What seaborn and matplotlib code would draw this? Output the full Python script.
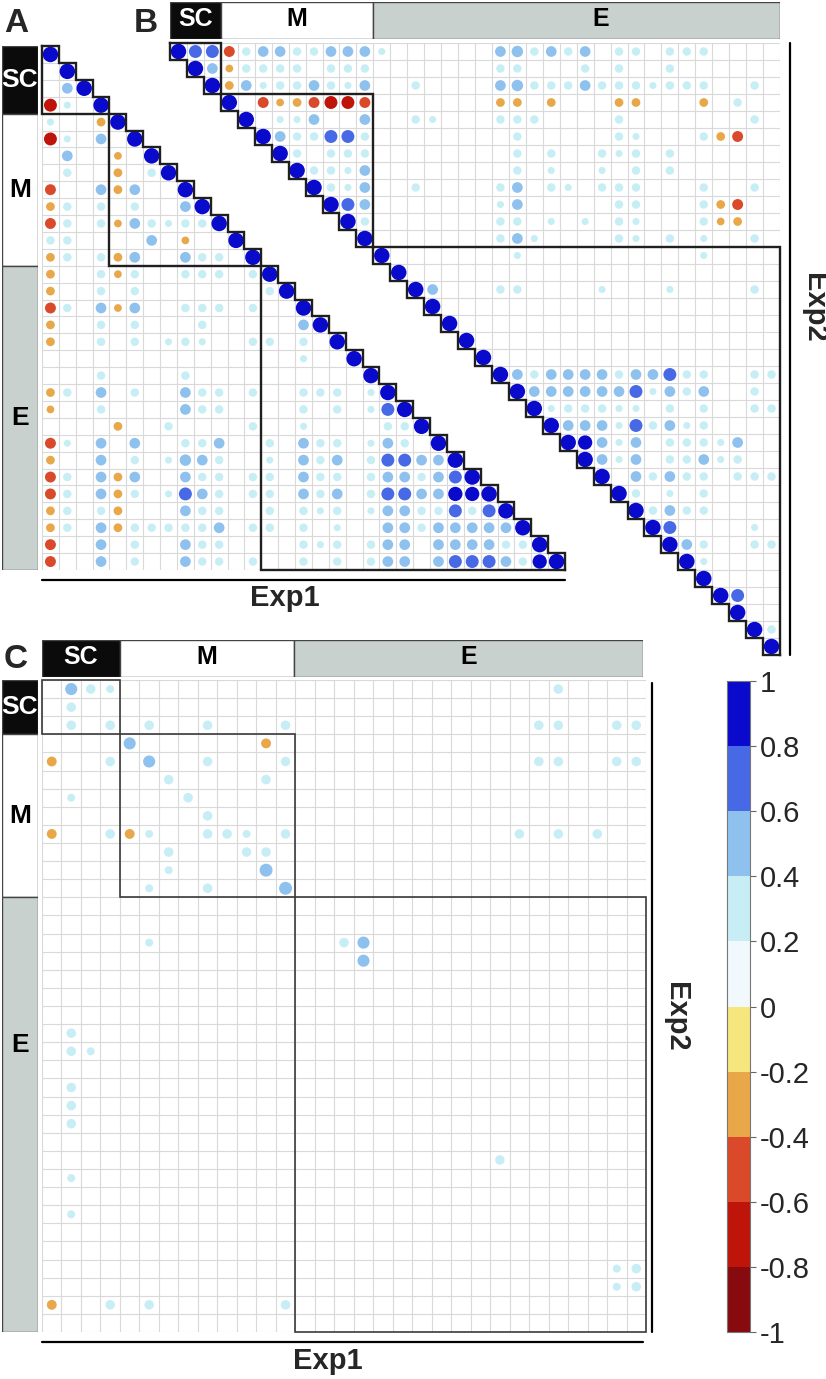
import numpy as np
import pandas as pd
import matplotlib
matplotlib.use("Agg")
import matplotlib as mpl
import matplotlib.pyplot as plt
from matplotlib.patches import Rectangle
from matplotlib.colors import ListedColormap, BoundaryNorm
import seaborn as sns

W, H = 826, 1379

# variable groups of the two experiments
GROUPS = ["SC", "M", "E"]
EXP1_SIZES = [4, 9, 18]
EXP2_SIZES = [3, 9, 24]

# discrete colour scale of the correlation coefficient
BOUNDS = [-1, -0.8, -0.6, -0.4, -0.2, 0, 0.2, 0.4, 0.6, 0.8, 1]
BIN_COLORS = ["#870A0F", "#BE1409", "#D9492A", "#E8A748", "#F6E67E",
              "#F1F9FC", "#C8EEF5", "#8FC1EE", "#4869E6", "#0A0ACD"]

# dot codes -> correlation values
LEVELS = {"9": 1.0, "8": 0.85, "7": 0.7, "6": 0.55, "5": 0.48, "3": 0.3,
          "2": 0.21, "a": -0.25, "b": -0.32, "c": -0.5, "d": -0.7}

# A: Exp1 vs Exp1, lower triangle, row r holds columns 0..r
A_ROWS = [
    "9",
    ".9",
    ".59",
    "d2.9",
    "2..b9",
    "d2.5.9",
    ".5..a.9",
    ".3..b.39",
    "c..5b5..9",
    "b3.3.3..59",
    "c3.3a532339",
    "33....5.a..9",
    "b3.3b5..533.9",
    "b..3a3..333.39",
    "b..3.3.......39",
    "c3.5a5..333.3..9",
    "b..3.3...3.....59",
    "b..3.3.232..33.3.9",
    "...............2..9",
    "...3....3..........9",
    "b3.5.3..533.3..333.29",
    "a..3....533....3.3.279",
    "....b..3....3..2....339",
    "c2.5.5..335..3.533.253.9",
    "b..5.3.2653..2.535.377559",
    "c3.5b5..533.33.533.3553579",
    "c3.5b3.2753.33.535.37755889",
    "b3.3b...533..3.323.255337379",
    "b3.5b333335.33.3.2..553555559",
    "c..5.3..533....323.355.5555339",
    "c..5.3..533.3..3.3.355.57775389",
]

# B: Exp2 vs Exp2, upper triangle, row r holds columns r..35
B_ROWS = [
    "977c355335552" + "......" + "563535.33.333",
    "95a3333.333" + "......." + "33...3.3..3",
    "9b52335325" + "..3...." + "5633353332333..3",
    "9.cabcddc" + "......." + "bb.b...bb...b.3",
    "9.225..5" + "..32..." + "333....3.......3",
    "9533773" + "........" + "3.....32...3bc",
    "93.333" + "........" + "3.3..323.3",
    "93325" + "........" + "3.2..2.3.3",
    "9325" + "..3...." + "35.32.333...3..3",
    "975" + "......." + "25.....33...3bc",
    "93" + "......." + "33.2.2.32...3ab",
    "9" + "......." + "352....32.3.2..3",
    "9" + "......." + "2" + ".........." + "2",
    "9",
    "95...33....2...2....3",
    "9",
    "9",
    "9",
    "9",
    "9535555355733..33",
    "955555572535..3",
    "9233322.3.3..33",
    "9555273523",
    "98525.33325",
    "9525.33523",
    "9.53533.333",
    "93.2.3",
    "93533",
    "97....2",
    "953..33",
    "92",
    "9",
    "97",
    "9",
    "93",
    "9",
]

# C: Exp2 (rows) vs Exp1 (columns), significant cells only
C_DOTS = [
    (0, 1, 0.48), (0, 2, 0.3), (0, 3, 0.21), (0, 26, 0.3),
    (1, 1, 0.3),
    (2, 1, 0.3), (2, 3, 0.3), (2, 5, 0.3), (2, 8, 0.3), (2, 12, 0.3),
    (2, 25, 0.3), (2, 26, 0.3), (2, 29, 0.3), (2, 30, 0.3),
    (3, 4, 0.48), (3, 11, -0.32),
    (4, 0, -0.32), (4, 3, 0.3), (4, 5, 0.48), (4, 8, 0.3), (4, 12, 0.3),
    (4, 25, 0.3), (4, 26, 0.3), (4, 29, 0.3), (4, 30, 0.3),
    (5, 6, 0.3), (5, 11, 0.3),
    (6, 1, 0.21), (6, 7, 0.3),
    (7, 8, 0.3),
    (8, 0, -0.32), (8, 3, 0.3), (8, 4, -0.32), (8, 5, 0.21), (8, 8, 0.3),
    (8, 9, 0.3), (8, 10, 0.21), (8, 12, 0.3), (8, 24, 0.3), (8, 26, 0.3),
    (8, 28, 0.3),
    (9, 6, 0.3), (9, 10, 0.3), (9, 11, 0.3),
    (10, 6, 0.21), (10, 11, 0.55),
    (11, 5, 0.21), (11, 8, 0.3), (11, 12, 0.55),
    (14, 5, 0.21), (14, 15, 0.3), (14, 16, 0.48),
    (15, 16, 0.48),
    (19, 1, 0.3),
    (20, 1, 0.3), (20, 2, 0.21),
    (22, 1, 0.3), (23, 1, 0.3), (24, 1, 0.3),
    (26, 23, 0.3),
    (27, 1, 0.21), (29, 1, 0.21),
    (32, 29, 0.21), (32, 30, 0.3), (33, 29, 0.21), (33, 30, 0.3),
    (34, 0, -0.32), (34, 3, 0.3), (34, 5, 0.3), (34, 12, 0.3),
]

GROUP_STYLE = {"SC": ("#0b0b0b", "white"), "M": ("white", "black"),
               "E": ("#C9D1CF", "black")}
PALETTE = dict(enumerate(BIN_COLORS))
GRID_C = "#D9D9D9"
LINE_C = "#1f1f1f"

sns.set_style("white")
plt.rcParams["font.family"] = ["Liberation Sans", "DejaVu Sans"]

fig = plt.figure(figsize=(W / 100, H / 100), dpi=100)


def px_axes(x0, y0, x1, y1, off=True):
    ax = fig.add_axes([x0 / W, 1 - y1 / H, (x1 - x0) / W, (y1 - y0) / H])
    if off:
        ax.set_axis_off()
    return ax


def rows_to_frame(rows, upper):
    recs = []
    for i, row in enumerate(rows):
        start = i if upper else 0
        for j, ch in enumerate(row):
            if ch in LEVELS:
                recs.append((i, start + j, LEVELS[ch]))
    return pd.DataFrame(recs, columns=["row", "col", "r"])


def prep(df):
    df = df.copy()
    df["absr"] = df["r"].abs()
    df["bin"] = np.digitize(df["r"], BOUNDS[1:-1])
    return df


def draw_dots(ax, df, smax):
    sns.scatterplot(data=df, x="col", y="row", hue="bin", palette=PALETTE,
                    size="absr", sizes=(0, smax), size_norm=(0, 1),
                    linewidth=0, legend=False, ax=ax, zorder=3, clip_on=False)


def tri_panel(ax, df, sizes, upper):
    n = sum(sizes)
    k = np.arange(n)
    kw = dict(colors=GRID_C, lw=0.8, zorder=1)
    if upper:
        ax.hlines(k - 0.5, k - 0.5, n - 0.5, **kw)
        ax.vlines(k + 0.5, -0.5, k + 0.5, **kw)
    else:
        ax.hlines(k + 0.5, -0.5, k + 0.5, **kw)
        ax.vlines(k - 0.5, k - 0.5, n - 0.5, **kw)
    draw_dots(ax, df, 124)

    # staircase along the diagonal
    xs, ys = [-0.5], [-0.5]
    for i in range(n):
        if upper:
            xs += [i - 0.5, i + 0.5]
            ys += [i + 0.5, i + 0.5]
        else:
            xs += [i + 0.5, i + 0.5]
            ys += [i - 0.5, i + 0.5]
    lkw = dict(color=LINE_C, lw=1.7, zorder=4, clip_on=False,
               solid_joinstyle="miter", solid_capstyle="projecting")
    ax.plot(xs, ys, **lkw)
    s = 0
    for m in sizes:
        e = s + m
        if upper:
            ax.plot([s - 0.5, e - 0.5, e - 0.5], [s - 0.5, s - 0.5, e - 0.5], **lkw)
        else:
            ax.plot([s - 0.5, s - 0.5, e - 0.5], [s - 0.5, e - 0.5, e - 0.5], **lkw)
        s = e
    ax.set_xlim(-0.5, n - 0.5)
    ax.set_ylim(n - 0.5, -0.5)
    ax.set_axis_off()


def group_bar(ax, sizes, horizontal, fs, label_frac=None):
    label_frac = label_frac or [0.5] * len(sizes)
    n = sum(sizes)
    s = 0
    for name, m, f in zip(GROUPS, sizes, label_frac):
        face, tc = GROUP_STYLE[name]
        if horizontal:
            ax.add_patch(Rectangle((s - 0.5, 0), m, 1, fc=face, ec="#444444", lw=1))
            ax.text(s - 0.5 + m * f, 0.47, name, color=tc, fontsize=fs,
                    fontweight="bold", ha="center", va="center")
        else:
            ax.add_patch(Rectangle((0, s - 0.5), 1, m, fc=face, ec="#444444", lw=1))
            ax.text(0.5, s - 0.5 + m * f, name, color=tc, fontsize=fs,
                    fontweight="bold", ha="center", va="center")
        s += m
    if horizontal:
        ax.set_xlim(-0.5, n - 0.5)
        ax.set_ylim(1, 0)
    else:
        ax.set_xlim(0, 1)
        ax.set_ylim(n - 0.5, -0.5)


# ---- panel A ----
df_a = prep(rows_to_frame(A_ROWS, upper=False))
ax_a = px_axes(42, 46, 565, 570)
tri_panel(ax_a, df_a, EXP1_SIZES, upper=False)
group_bar(px_axes(2, 46, 38, 570), EXP1_SIZES, False, 19)

# ---- panel B ----
df_b = prep(rows_to_frame(B_ROWS, upper=True))
ax_b = px_axes(170, 43, 780, 655)
tri_panel(ax_b, df_b, EXP2_SIZES, upper=True)
group_bar(px_axes(170, 2, 780, 39), EXP2_SIZES, True, 18, [0.5, 0.5, 0.56])

# ---- panel C ----
df_c = prep(pd.DataFrame(C_DOTS, columns=["row", "col", "r"]))
ax_c = px_axes(42, 680, 646, 1332)
nr, nc = sum(EXP2_SIZES), sum(EXP1_SIZES)
ax_c.hlines(np.arange(nr + 1) - 0.5, -0.5, nc - 0.5, colors=GRID_C, lw=0.8, zorder=1)
ax_c.vlines(np.arange(nc + 1) - 0.5, -0.5, nr - 0.5, colors=GRID_C, lw=0.8, zorder=1)
draw_dots(ax_c, df_c, 158)
r0 = c0 = 0
for rn, cn in zip(EXP2_SIZES, EXP1_SIZES):
    ax_c.add_patch(Rectangle((c0 - 0.5, r0 - 0.5), cn, rn, fill=False,
                             ec="#3a3a3a", lw=1.2, zorder=4, clip_on=False))
    r0 += rn
    c0 += cn
ax_c.set_xlim(-0.5, nc - 0.5)
ax_c.set_ylim(nr - 0.5, -0.5)
ax_c.set_axis_off()
group_bar(px_axes(42, 640, 643, 677), EXP1_SIZES, True, 18)
group_bar(px_axes(2, 680, 38, 1332), EXP2_SIZES, False, 19, [0.5, 0.5, 0.34])

# ---- colour bar ----
cax = px_axes(727, 681, 750, 1332, off=False)
sm = mpl.cm.ScalarMappable(norm=BoundaryNorm(BOUNDS, len(BIN_COLORS)),
                           cmap=ListedColormap(BIN_COLORS))
cb = fig.colorbar(sm, cax=cax, ticks=BOUNDS)
cb.ax.set_yticklabels([f"{t:g}" for t in BOUNDS])
cb.ax.tick_params(labelsize=21, length=4, width=0.8, color="#666666", pad=3)
cb.outline.set_edgecolor("#777777")
cb.outline.set_linewidth(0.8)

# ---- letters, axis titles and axis lines ----
deco = px_axes(0, 0, W, H)
deco.set_xlim(0, W)
deco.set_ylim(H, 0)
for letter, (x, y) in zip("ABC", [(16, 24), (146, 24), (16, 660)]):
    deco.text(x, y, letter, fontsize=24, fontweight="bold", ha="center", va="center")
tkw = dict(fontsize=21, fontweight="bold", ha="center", va="center")
deco.text(285, 598, "Exp1", **tkw)
deco.text(328, 1361, "Exp1", **tkw)
deco.text(814, 308, "Exp2", rotation=270, **tkw)
deco.text(676, 1017, "Exp2", rotation=270, **tkw)
akw = dict(color="black", lw=1.6)
deco.plot([42, 565], [580, 580], **akw)
deco.plot([790, 790], [43, 655], **akw)
deco.plot([652, 652], [683, 1332], **akw)
deco.plot([42, 643], [1342, 1342], **akw)

fig.savefig("out.png", dpi=100)
